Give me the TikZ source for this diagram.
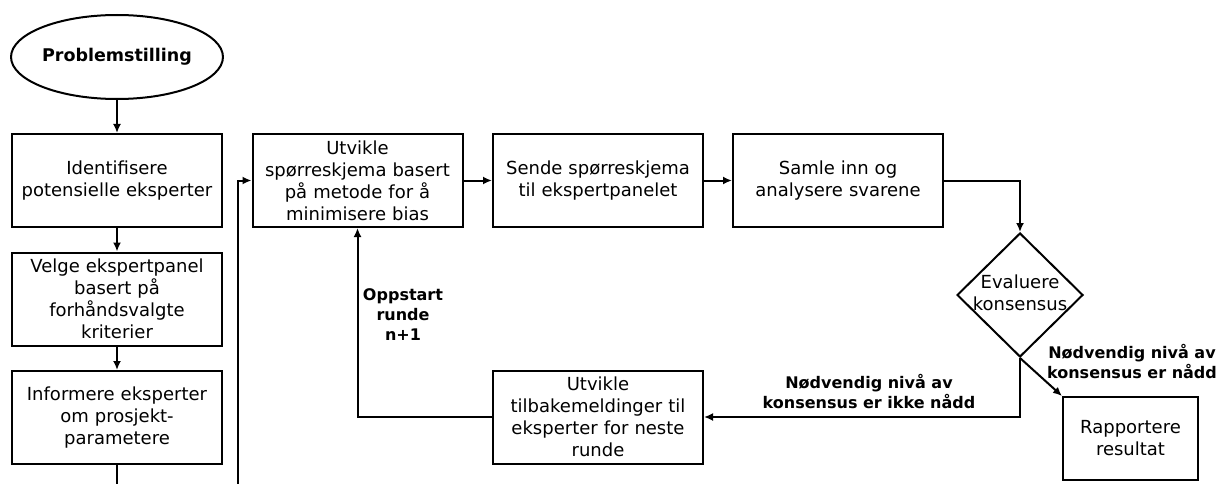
\documentclass[tikz,border=0pt]{standalone}
\usepackage{fontspec}
\setmainfont{DejaVu Sans}
\usetikzlibrary{shapes.geometric,arrows.meta}
\begin{document}
\begin{tikzpicture}[x=1pt,y=-1pt,
  boxfont/.style={font=\fontsize{18}{22}\selectfont},
  box/.style={draw, line width=2pt, minimum width=210pt, minimum height=93pt,
    text width=206pt, align=center, inner sep=1pt, boxfont},
  flow/.style={line width=2pt, -{Latex[length=9pt,width=8pt]}},
  tag/.style={font=\bfseries\fontsize{16}{20}\selectfont, align=center}]
\useasboundingbox (0,0) rectangle (1223,484);

% start
\node[ellipse, draw, line width=2pt, minimum width=210pt, minimum height=84pt,
  inner sep=0pt, font=\bfseries\fontsize{17.5}{20}\selectfont] (ps) at (117,57) {Problemstilling};

% preparation column
\node[box] (b1) at (117,180.5) {Identifisere\\potensielle eksperter};
\node[box] (b2) at (117,299) {Velge ekspertpanel\\basert på\\forhåndsvalgte\\kriterier};
\node[box] (b3) at (117,417.5) {Informere eksperter\\om prosjekt-\\parametere};
\coordinate (b3out) at (117,484);
\coordinate (loopin) at (238,484);

% round
\node[box] (b4) at (357.5,180.5) {Utvikle\\spørreskjema basert\\på metode for å\\minimisere bias};
\node[box] (b5) at (598,180.5) {Sende spørreskjema\\til ekspertpanelet};
\node[box] (b6) at (838,180.5) {Samle inn og\\analysere svarene};
\node[diamond, draw, line width=2pt, minimum width=126pt, minimum height=124pt,
  inner sep=0pt] (dec) at (1020,295) {};
\node[boxfont, align=center] (dectext) at (1020,293) {Evaluere\\konsensus};
\node[box] (b7) at (598,417) {Utvikle\\tilbakemeldinger til\\eksperter for neste\\runde};
\node[box, minimum width=135pt, minimum height=83pt, text width=131pt] (b8) at (1130.5,438.5) {Rapportere\\resultat};

% labels
\node[tag] (l1) at (403,315) {Oppstart\\runde\\n+1};
\node[tag] (l2) at (869,392) {Nødvendig nivå av\\konsensus er ikke nådd};
\node[tag] (l3) at (1132,362) {Nødvendig nivå av\\konsensus er nådd};

% connectors
\draw[flow] (ps) -- (b1);
\draw[flow] (b1) -- (b2);
\draw[flow] (b2) -- (b3);
\draw[line width=2pt] (b3.south) -- (b3out);
\draw[flow] (loopin) |- (b4.west);
\draw[flow] (b4) -- (b5);
\draw[flow] (b5) -- (b6);
\draw[flow] (b6.east) -| (dec.north);
\draw[flow] (dec.south) |- (b7.east);
\draw[flow] (b7.west) -| (b4.south);
\draw[flow] (dec.south) -- (b8.north west);
\end{tikzpicture}
\end{document}
